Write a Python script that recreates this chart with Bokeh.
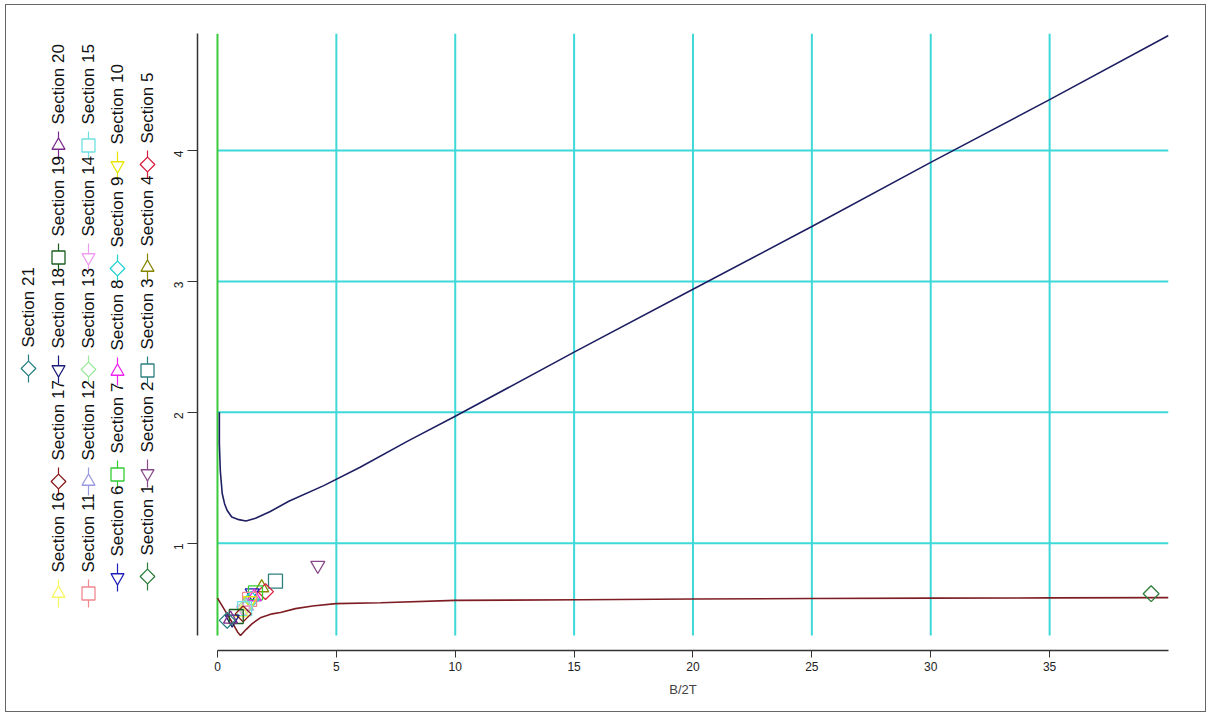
import math
from bokeh.plotting import figure
from bokeh.layouts import row
from bokeh.models import Range1d, FixedTicker, ColumnDataSource
from bokeh.embed import file_html
from bokeh.resources import INLINE
from bokeh.core.properties import value

# ---------------- data ----------------
x_ticks = [0, 5, 10, 15, 20, 25, 30, 35]
y_ticks = [1, 2, 3, 4]
x_title = "B/2T"

blue_x = [0.08, 0.08, 0.12, 0.2, 0.3, 0.41, 0.6, 0.9, 1.2, 1.6, 2.2, 3.0, 4.47, 6, 8, 10, 15, 20, 25, 30, 35, 40]
blue_y = [2.00, 1.76, 1.55, 1.38, 1.30, 1.25, 1.20, 1.18, 1.17, 1.19, 1.24, 1.32, 1.44, 1.58, 1.78, 1.97, 2.46, 2.94, 3.42, 3.91, 4.39, 4.88]

red_x = [0.0, 0.3, 0.6, 0.85, 0.97, 1.2, 1.46, 1.8, 2.3, 2.65, 3.28, 4.0, 4.97, 6.86, 10, 15.3, 20, 25, 30, 35, 40]
red_y = [0.58, 0.49, 0.40, 0.32, 0.295, 0.34, 0.385, 0.43, 0.46, 0.47, 0.50, 0.52, 0.538, 0.545, 0.563, 0.568, 0.573, 0.577, 0.58, 0.582, 0.584]

sections = ["Section %d" % i for i in range(1, 22)]
sec_x = [39.27, 4.22, 2.44, 1.86, 2.02, 1.46, 1.60, 1.55, 1.42, 1.38, 1.35, 1.22, 1.15, 1.10, 1.14, 1.02, 1.08, 0.62, 0.79, 0.55, 0.41]
sec_y = [0.614, 0.83, 0.71, 0.66, 0.63, 0.62, 0.62, 0.59, 0.57, 0.56, 0.57, 0.52, 0.51, 0.49, 0.50, 0.47, 0.46, 0.42, 0.44, 0.42, 0.41]
sec_shape = ["diamond", "inverted_triangle", "square", "triangle"] * 5 + ["diamond"]
sec_color = ["#2E7D3A", "#8A4A8A", "#2E8080", "#858500", "#D81E3C",
             "#1E1EB8", "#33CC33", "#EE22EE", "#22D0D0", "#E6E600",
             "#F08890", "#9A9AE0", "#9CE89C", "#EE9CEE", "#70E0E0",
             "#F6F660", "#8B1A1A", "#1C1C7A", "#1B5E20", "#7A2A8A",
             "#2A8080"]

# ---------------- styles / layout ----------------
FONT = "Liberation Sans"
GRID_COL = "#3FD8D8"
ZERO_COL = "#3CCB3C"
BLUE_COL = "#1E1E62"
RED_COL = "#7E1E24"

ORIGIN_X, ORIGIN_Y = 6, 5          # page position of the row's inner box
LW = 160                            # legend panel width
MW, H = 1039, 706                   # main figure width, common height
MB_L, MB_R, MB_T, MB_B = 31, 37, 28, 61
FRAME_TOP = ORIGIN_Y + MB_T
FRAME_BOT = ORIGIN_Y + H - MB_B


def bk_marker(s):
    return "square" if s == "diamond" else s


def bk_angle(s):
    return math.pi / 4 if s == "diamond" else 0.0


def bk_size(s, base):
    return base * 0.8 if s == "diamond" else base


# ---------------- main figure ----------------
p = figure(width=MW, height=H,
           x_range=Range1d(-0.84, 40.0), y_range=Range1d(0.18, 4.895),
           output_backend="svg", toolbar_location=None,
           min_border_left=MB_L, min_border_right=MB_R, min_border_top=MB_T, min_border_bottom=MB_B)
p.outline_line_color = None
p.xgrid.visible = False
p.ygrid.visible = False

ylo, yhi = 0.295, 4.895
xlo, xhi = 0.0, 40.0

p.segment(x0=x_ticks[1:], y0=[ylo] * (len(x_ticks) - 1), x1=x_ticks[1:], y1=[yhi] * (len(x_ticks) - 1),
          line_color=GRID_COL, line_width=2)
p.segment(x0=[xlo] * len(y_ticks), y0=y_ticks, x1=[xhi] * len(y_ticks), y1=y_ticks,
          line_color=GRID_COL, line_width=2)
p.segment(x0=[x_ticks[0]], y0=[ylo], x1=[x_ticks[0]], y1=[yhi], line_color=ZERO_COL, line_width=2)

p.line(blue_x, blue_y, line_color=BLUE_COL, line_width=1.6)
p.line(red_x, red_y, line_color=RED_COL, line_width=1.6)

src = ColumnDataSource(dict(
    x=sec_x, y=sec_y,
    marker=[bk_marker(s) for s in sec_shape],
    angle=[bk_angle(s) for s in sec_shape],
    size=[bk_size(s, 14) for s in sec_shape],
    color=sec_color))
p.scatter(x="x", y="y", marker="marker", angle="angle", size="size", line_color="color",
          fill_color=None, line_width=1.3, source=src)

p.xaxis.ticker = FixedTicker(ticks=x_ticks)
p.xaxis.bounds = (xlo, xhi)
p.xaxis.axis_label = x_title
p.xaxis.axis_label_text_font = FONT
p.xaxis.axis_label_text_font_style = "normal"
p.xaxis.axis_label_text_font_size = "13px"
p.xaxis.axis_label_standoff = 8
p.xaxis.minor_tick_line_color = None
p.xaxis.major_tick_in = 0
p.xaxis.major_tick_out = 7
p.xaxis.major_label_standoff = 4

p.yaxis.ticker = FixedTicker(ticks=y_ticks)
p.yaxis.bounds = (ylo, yhi)
p.yaxis.minor_tick_line_color = None
p.yaxis.major_tick_in = 0
p.yaxis.major_tick_out = 10
p.yaxis.major_label_standoff = 9
p.yaxis.major_label_orientation = math.pi / 2

for ax in (p.xaxis[0], p.yaxis[0]):
    ax.major_label_text_font = FONT
    ax.major_label_text_font_size = "12px"
    ax.major_label_text_color = "#222222"
    ax.axis_line_color = "#333333"
    ax.major_tick_line_color = "#333333"
    ax.axis_line_width = 1.5

# ---------------- legend panel (rotated legend), coordinates in page pixels ----------------
lf = figure(width=LW, height=H,
            x_range=Range1d(ORIGIN_X, ORIGIN_X + LW), y_range=Range1d(-FRAME_BOT, -FRAME_TOP),
            output_backend="svg", toolbar_location=None,
            min_border_left=0, min_border_right=0, min_border_top=MB_T, min_border_bottom=MB_B)
lf.axis.visible = False
lf.grid.visible = False
lf.outline_line_color = None

col_x_page = [147, 117, 88, 58, 28]
col_base_page = [576, 577, 593, 593, 368]

mx, my, ty, seg_y0, seg_y1 = [], [], [], [], []
cur = None
for i, lab in enumerate(sections):
    c, k = divmod(i, 5)
    if k == 0:
        cur = col_base_page[c]
    else:
        cur -= 9 * len(sections[i - 1]) + 22
    mx.append(col_x_page[c])
    my.append(-cur)
    ty.append(-(cur - 21))
    seg_y0.append(-(cur - 14))
    seg_y1.append(-(cur + 14))

lsrc = ColumnDataSource(dict(
    x=mx, y=my, ty=ty, y0=seg_y0, y1=seg_y1, text=sections,
    marker=[bk_marker(s) for s in sec_shape],
    angle=[bk_angle(s) for s in sec_shape],
    size=[bk_size(s, 13) for s in sec_shape],
    color=sec_color))
lf.segment(x0="x", y0="y0", x1="x", y1="y1", line_color="color", line_width=1.2, source=lsrc)
lf.scatter(x="x", y="y", marker="marker", angle="angle", size="size", line_color="color",
           fill_color="white", line_width=1.3, source=lsrc)
lf.text(x="x", y="ty", text="text", angle=math.pi / 2, text_align="left", text_baseline="middle",
        text_font=value(FONT), text_font_size="17px", text_color="#111111", source=lsrc)

layout = row(lf, p, margin=(4, 0, 0, 5), styles={"border": "1px solid #666666"})
open("out.html", "w").write(file_html(layout, INLINE))
